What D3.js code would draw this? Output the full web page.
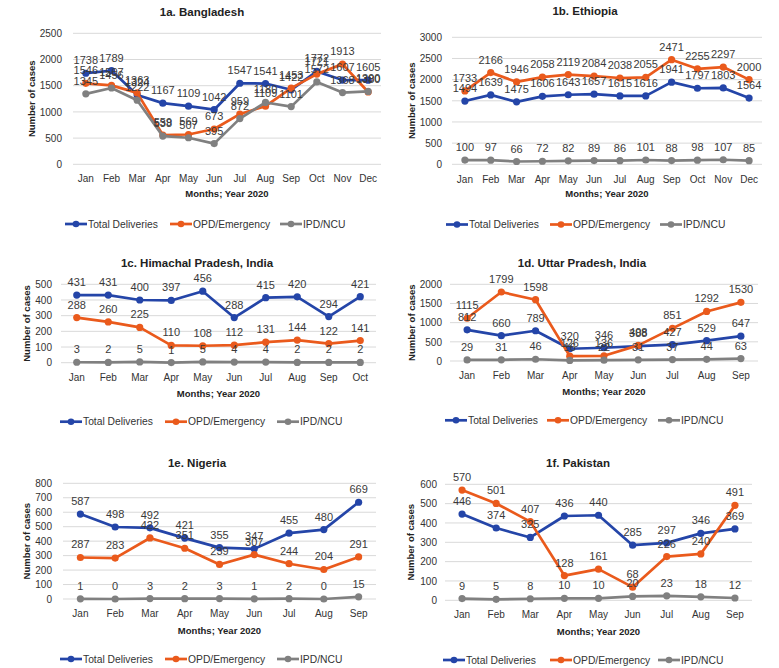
<!DOCTYPE html>
<html><head><meta charset="utf-8">
<script src="https://cdn.jsdelivr.net/npm/d3@7"></script>
<style>body{margin:0;background:#fff}svg{display:block}text{font-family:"Liberation Sans",Arial,sans-serif}</style>
</head><body><svg id="c" width="779" height="668"></svg>
<script>
const months12 = ["Jan","Feb","Mar","Apr","May","Jun","Jul","Aug","Sep","Oct","Nov","Dec"];
const months10 = months12.slice(0,10);
const months9 = months12.slice(0,9);
const seriesNames = ["Total Deliveries","OPD/Emergency","IPD/NCU"];
const seriesColors = ["#2445a8","#ea5a1c","#808080"];

// 1a Bangladesh
const bdTotal = [1738,1789,1324,1167,1109,1042,1547,1541,1422,1772,1607,1605];
const bdOPD   = [1546,1507,1363,559,569,673,959,1109,1453,1721,1913,1380];
const bdIPD   = [1345,1456,1222,538,507,395,872,1180,1101,1572,1368,1390];
// 1b Ethiopia
const etTotal = [1494,1639,1475,1606,1643,1657,1615,1616,1941,1797,1803,1564];
const etOPD   = [1733,2166,1946,2058,2119,2084,2038,2055,2471,2255,2297,2000];
const etIPD   = [100,97,66,72,82,89,86,101,88,98,107,85];
// 1c Himachal Pradesh
const hpTotal = [431,431,400,397,456,288,415,420,294,421];
const hpOPD   = [288,260,225,110,108,112,131,144,122,141];
const hpIPD   = [3,2,5,1,5,4,4,2,2,2];
// 1d Uttar Pradesh
const upTotal = [812,660,789,320,346,388,427,529,647];
const upOPD   = [1115,1799,1598,126,136,408,851,1292,1530];
const upIPD   = [29,31,46,16,22,31,37,44,63];
// 1e Nigeria
const ngTotal = [587,498,492,421,355,347,455,480,669];
const ngOPD   = [287,283,422,351,239,307,244,204,291];
const ngIPD   = [1,0,3,2,3,1,2,0,15];
// 1f Pakistan
const pkTotal = [446,374,325,436,440,285,297,346,369];
const pkOPD   = [570,501,407,128,161,68,226,240,491];
const pkIPD   = [9,5,8,10,10,20,23,18,12];

const yTicksBD = [0,500,1000,1500,2000,2500];
const yTicksET = [0,500,1000,1500,2000,2500,3000];
const yTicksHP = [0,100,200,300,400,500];
const yTicksUP = [0,500,1000,1500,2000];
const yTicksNG = [0,100,200,300,400,500,600,700,800];
const yTicksPK = [0,100,200,300,400,500,600];

const svg = d3.select("#c");
const txt = "#333";

function panel(o){
  const g = svg.append("g");
  const x = d3.scaleBand().domain(o.months).range([o.gx0,o.gx1]);
  const y = d3.scaleLinear().domain([0,d3.max(o.ticks)]).range([o.yb,o.yt]);
  g.append("g").selectAll("line").data(o.ticks).join("line")
    .attr("x1",o.gx0).attr("x2",o.gx1)
    .attr("y1",d=>y(d)).attr("y2",d=>y(d))
    .attr("stroke","#d9d9d9").attr("stroke-width",1);
  const ya = d3.axisLeft(y).tickValues(o.ticks).tickSize(0).tickPadding(0).tickFormat(d3.format("d"));
  const yg = g.append("g").attr("transform",`translate(${o.tickR},0)`).call(ya);
  yg.select(".domain").remove();
  yg.selectAll("text").attr("font-size",10).attr("fill",txt).attr("font-family","Liberation Sans, Arial");
  const xa = d3.axisBottom(x).tickSize(0).tickPadding(0);
  const xg = g.append("g").attr("transform",`translate(0,${o.xly})`).call(xa);
  xg.select(".domain").remove();
  xg.selectAll("text").attr("font-size",10).attr("fill",txt).attr("font-family","Liberation Sans, Arial").attr("dy","0.35em");
  g.append("text").attr("x",o.tx).attr("y",o.ty).attr("text-anchor","middle")
    .attr("font-size",11.5).attr("font-weight","bold").attr("fill","#222").attr("dominant-baseline","central").text(o.title);
  g.append("text").attr("x",(o.gx0+o.gx1)/2).attr("y",o.xty).attr("text-anchor","middle")
    .attr("font-size",9.5).attr("font-weight","bold").attr("fill","#222").attr("dominant-baseline","central").text("Months; Year 2020");
  g.append("text").attr("transform",`translate(${o.ytx},${(o.yt+o.yb)/2}) rotate(-90)`).attr("text-anchor","middle")
    .attr("font-size",9.5).attr("font-weight","bold").attr("fill","#222").attr("dominant-baseline","central").text("Number of cases");
  const line = d3.line().x((d,i)=>x(o.months[i])+x.bandwidth()/2).y(d=>y(d));
  o.series.forEach((s,k)=>{
    g.append("path").datum(s).attr("d",line).attr("fill","none")
      .attr("stroke",seriesColors[k]).attr("stroke-width",2.7).attr("stroke-linejoin","round");
    g.append("g").selectAll("circle").data(s).join("circle")
      .attr("cx",(d,i)=>x(o.months[i])+x.bandwidth()/2).attr("cy",d=>y(d)).attr("r",3.6)
      .attr("fill",seriesColors[k]);
  });
  o.series.forEach((s,k)=>{
    g.append("g").selectAll("text").data(s).join("text")
      .attr("x",(d,i)=>x(o.months[i])+x.bandwidth()/2).attr("y",d=>y(d)-13)
      .attr("text-anchor","middle").attr("dominant-baseline","central")
      .attr("font-size",11).attr("fill","#3a3a3a").text(d=>d);
  });
  seriesNames.forEach((n,k)=>{
    const lx = o.legX[k];
    g.append("line").attr("x1",lx).attr("x2",lx+22).attr("y1",o.ly).attr("y2",o.ly)
      .attr("stroke",seriesColors[k]).attr("stroke-width",2.7);
    g.append("circle").attr("cx",lx+11).attr("cy",o.ly).attr("r",3.3).attr("fill",seriesColors[k]);
    g.append("text").attr("x",lx+23).attr("y",o.ly).attr("dominant-baseline","central")
      .attr("font-size",10.3).attr("fill",txt).text(n);
  });
}

panel({title:"1a. Bangladesh",months:months12,series:[bdTotal,bdOPD,bdIPD],ticks:yTicksBD,
  gx0:73,gx1:381,yt:33.3,yb:164.3,tickR:62,tx:202,ty:12,ytx:31,xly:178,xty:193,ly:224,legX:[65,170,280]});
panel({title:"1b. Ethiopia",months:months12,series:[etTotal,etOPD,etIPD],ticks:yTicksET,
  gx0:452,gx1:762,yt:37.3,yb:164.3,tickR:442,tx:585,ty:11,ytx:411,xly:179,xty:193,ly:224.5,legX:[446,550,660]});
panel({title:"1c. Himachal Pradesh, India",months:months10,series:[hpTotal,hpOPD,hpIPD],ticks:yTicksHP,
  gx0:61,gx1:376,yt:284.3,yb:362.7,tickR:52,tx:197,ty:263,ytx:26,xly:377,xty:393,ly:421.7,legX:[60,165,277]});
panel({title:"1d. Uttar Pradesh, India",months:months9,series:[upTotal,upOPD,upIPD],ticks:yTicksUP,
  gx0:450,gx1:758,yt:284.3,yb:361,tickR:442,tx:582,ty:263,ytx:411,xly:375,xty:391.5,ly:420.3,legX:[445,547,658]});
panel({title:"1e. Nigeria",months:months9,series:[ngTotal,ngOPD,ngIPD],ticks:yTicksNG,
  gx0:63,gx1:376,yt:483.3,yb:599,tickR:52,tx:197,ty:463,ytx:26,xly:613,xty:630,ly:659,legX:[60,165,277]});
panel({title:"1f. Pakistan",months:months9,series:[pkTotal,pkOPD,pkIPD],ticks:yTicksPK,
  gx0:445,gx1:752,yt:484.3,yb:600.3,tickR:437,tx:578,ty:463,ytx:410,xly:614,xty:631,ly:660,legX:[443,550,658]});
</script></body></html>
